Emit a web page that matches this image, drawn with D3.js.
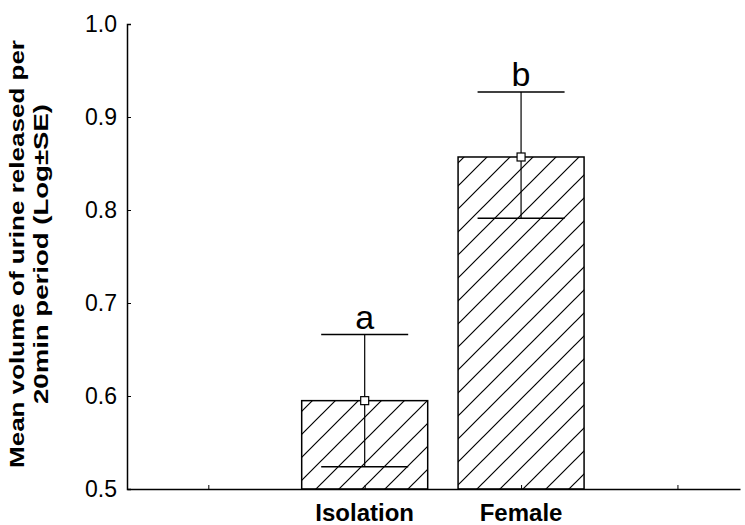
<!DOCTYPE html>
<html><head><meta charset="utf-8">
<script src="https://cdn.jsdelivr.net/npm/d3@7"></script>
<style>body{margin:0;background:#fff}text{font-family:"Liberation Sans",Arial,sans-serif}</style>
</head><body><svg id="chart" width="745" height="525"></svg>
<script>
const categories = ["Isolation", "Female"];
const positions = [2, 3];
const means = [0.595, 0.857];
const upper = [0.666, 0.927];
const lower = [0.524, 0.791];
const letters = ["a", "b"];
const yTicks = [0.5, 0.6, 0.7, 0.8, 0.9, 1.0];
const xTicks = [1, 2, 3, 4];

const svg = d3.select("#chart");
const x = d3.scaleLinear().domain([0.48, 4.4]).range([127, 740]);
const y = d3.scaleLinear().domain([0.5, 1.0]).range([489, 24]);

const defs = svg.append("defs");
const pat = defs.append("pattern").attr("id", "hatch").attr("patternUnits", "userSpaceOnUse")
    .attr("width", 23).attr("height", 23);
pat.append("path").attr("d", "M0,23 L23,0 M-6,6 L6,-6 M17,29 L29,17")
    .attr("stroke", "#000").attr("stroke-width", 1.2);

const barW = 126;
svg.selectAll(".bar").data(means).enter().append("rect")
    .attr("x", (d, i) => x(positions[i]) - barW / 2)
    .attr("y", d => y(d))
    .attr("width", barW)
    .attr("height", d => y(0.5) - y(d))
    .attr("fill", "url(#hatch)").attr("stroke", "#000").attr("stroke-width", 1.5);

const capW = 87;
means.forEach((m, i) => {
    const cx = x(positions[i]);
    svg.append("line").attr("x1", cx).attr("x2", cx).attr("y1", y(upper[i])).attr("y2", y(lower[i]))
        .attr("stroke", "#000").attr("stroke-width", 1.2);
    [upper[i], lower[i]].forEach(v => svg.append("line")
        .attr("x1", cx - capW / 2).attr("x2", cx + capW / 2).attr("y1", y(v)).attr("y2", y(v))
        .attr("stroke", "#000").attr("stroke-width", 1.5));
    svg.append("rect").attr("x", cx - 4).attr("y", y(m) - 4).attr("width", 8).attr("height", 8)
        .attr("fill", "#fff").attr("stroke", "#000").attr("stroke-width", 1.2);
    svg.append("text").attr("x", cx).attr("y", y(upper[i]) - 6).attr("text-anchor", "middle")
        .attr("font-size", 34).text(letters[i]);
});

const yAxis = svg.append("g").attr("transform", "translate(127,0)")
    .call(d3.axisLeft(y).tickValues(yTicks).tickFormat(d3.format(".1f")).tickSize(-4).tickPadding(10));
yAxis.selectAll("text").attr("font-size", 23).attr("fill", "#000");

const xAxis = svg.append("g").attr("transform", "translate(0,489)")
    .call(d3.axisBottom(x).tickValues(xTicks).tickFormat("").tickSize(-4).tickSizeOuter(0));
svg.selectAll(".domain").attr("stroke-width", 1.5);

svg.selectAll(".cat").data(categories).enter().append("text")
    .attr("x", (d, i) => x(positions[i])).attr("y", 521).attr("text-anchor", "middle")
    .attr("font-size", 24).attr("font-weight", "bold").text(d => d);

const yl = svg.append("text").attr("transform", "translate(24,254) rotate(-90)")
    .attr("text-anchor", "middle").attr("font-size", 21).attr("font-weight", "bold");
yl.append("tspan").attr("x", 0).attr("dy", 0).attr("textLength", 428)
    .attr("lengthAdjust", "spacingAndGlyphs").text("Mean volume of urine released per");
yl.append("tspan").attr("x", 0).attr("dy", 24).attr("textLength", 300)
    .attr("lengthAdjust", "spacingAndGlyphs").text("20min period (Log±SE)");
</script></body></html>
